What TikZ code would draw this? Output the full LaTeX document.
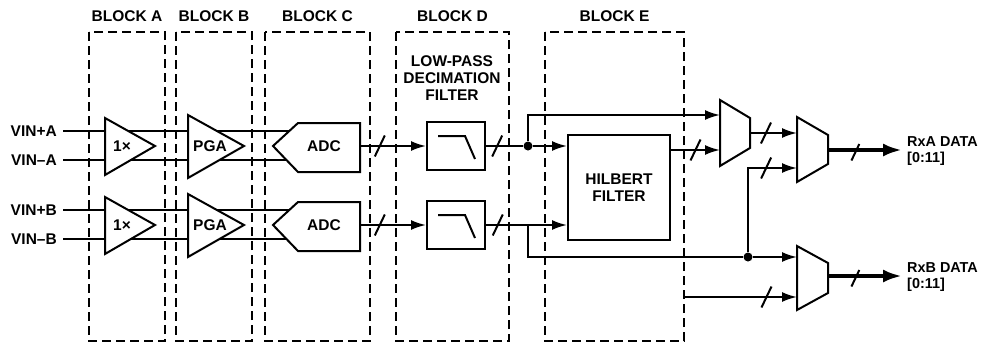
\documentclass[tikz,border=0pt]{standalone}
\usepackage{fontspec}
\setmainfont{Liberation Sans}
\usetikzlibrary{arrows.meta}

\tikzset{
	lbl/.style={font=\fontsize{15.5}{17.3}\selectfont\bfseries, inner sep=0pt},
	rxlbl/.style={font=\fontsize{14.4}{16.5}\selectfont\bfseries, inner sep=0pt, anchor=west, align=left},
	blk/.style={dash pattern=on 9pt off 5pt, line width=2pt},
	sig/.style={line width=2pt},
	sigar/.style={sig, -{Latex[length=15pt,width=10pt]}},
	outar/.style={line width=4.5pt, -{Latex[length=19pt,width=13pt]}},
	box/.style={draw, line width=2pt, fill=white, inner sep=0pt},
	dot/.style={circle, fill, inner sep=0pt, minimum size=9pt},
	slash/.pic={\draw[line width=2pt, -] (-5,10.5) -- (5,-10.5);}
}

\begin{document}
\begin{tikzpicture}[x=1pt,y=-1pt]
		\useasboundingbox (0,0) rectangle (982,343);
		\foreach \nm/\xa/\xb in {A/89/165,B/176/252,C/265/370,D/396/509,E/545/684}{
			\draw[blk] (\xa,32) rectangle (\xb,341);
			\node[lbl] (blk\nm) at ({(\xa+\xb)/2},16) {BLOCK \nm};
		}
		\node[lbl, align=center] (lpdf) at (452,78) {LOW-PASS\\DECIMATION\\FILTER};
		\foreach \ch/\yc in {A/146,B/225}{
			\node[lbl, anchor=east] (lp\ch) at (57,\yc-15) {VIN+\ch};
			\node[lbl, anchor=east] (ln\ch) at (57,\yc+14) {VIN–\ch};
			\coordinate (p\ch) at (63,\yc-15);
			\coordinate (n\ch) at (63,\yc+14);
			\coordinate (adcp\ch) at (300,\yc-15);
			\coordinate (adcn\ch) at (300,\yc+14);
			\draw[sig] (p\ch) -- (adcp\ch);
			\draw[sig] (n\ch) -- (adcn\ch);
			\draw[box] (105,\yc-28) -- (155,\yc) -- (105,\yc+29) -- cycle;
			\node[lbl] (buf\ch) at (122,\yc) {1×};
			\draw[box] (188,\yc-31) -- (244,\yc) -- (188,\yc+32) -- cycle;
			\node[lbl] (pga\ch) at (210,\yc) {PGA};
			\draw[box] (273,\yc) -- (298,\yc-23) -- (360,\yc-23) -- (360,\yc+26) -- (298,\yc+26) -- cycle;
			\node[lbl] (adc\ch) at (324,\yc) {ADC};
			\coordinate (adco\ch) at (360,\yc);
			\node[box, minimum width=58pt, minimum height=48pt] (filt\ch) at (456,\yc) {};
			\draw[sig] (filt\ch.center) ++(-18,-10) -- ++(27,0) -- ++(10,23);
			\draw[sigar] (adco\ch) -- (filt\ch) pic[pos=.3]{slash};
		}
		\node[box, lbl, align=center, minimum width=102pt, minimum height=105pt] (hilb) at (619,187.5) {HILBERT\\FILTER};
		\draw[box] (720,100) -- (750,118) -- (750,148) -- (720,166) -- cycle;
		\draw[box] (797,117) -- (828,135) -- (828,164) -- (797,182) -- cycle;
		\draw[box] (797,246) -- (828,263) -- (828,293) -- (797,310) -- cycle;
		\coordinate (mux1a) at (720,115);
		\coordinate (mux1b) at (720,150);
		\coordinate (mux1o) at (750,133);
		\coordinate (mux2a) at (797,133);
		\coordinate (mux2b) at (797,168);
		\coordinate (mux2o) at (828,150);
		\coordinate (mux3a) at (797,257);
		\coordinate (mux3b) at (797,297);
		\coordinate (mux3o) at (828,276);
		\coordinate (eout) at (684,297);
		\node[dot] (jA) at (528,146) {};
		\coordinate (jB) at (528,225);
		\node[dot] (jC) at (748,257) {};
		\node[rxlbl] (rxA) at (907,151) {RxA DATA\\{[0:11]}};
		\node[rxlbl] (rxB) at (907,277) {RxB DATA\\{[0:11]}};
		\draw[sig] (filtA) -- (jA) pic[pos=.3]{slash};
		\draw[sigar] (jA) -- (jA -| hilb.west);
		\draw[sigar] (jA) |- (mux1a);
		\draw[sig] (filtB) -- (jB) pic[pos=.28]{slash};
		\draw[sigar] (jB) -- (jB -| hilb.west);
		\draw[sig] (jB) |- (jC);
		\draw[sigar] (jC) -- (mux3a);
		\draw[sigar] (jC) -- (jC |- mux2b) -- (mux2b) pic[pos=.37]{slash};
		\draw[sigar] (hilb.east |- mux1b) -- (mux1b) pic[pos=.5]{slash};
		\draw[sigar] (mux1o) -- (mux2a) pic[pos=.34]{slash};
		\draw[sigar] (eout) -- (mux3b) pic[pos=.73]{slash};
		\draw[outar, shorten >=5pt] (mux2o) -- (mux2o -| rxA.west) pic[pos=.36]{slash};
		\draw[outar, shorten >=5pt] (mux3o) -- (mux3o -| rxB.west) pic[pos=.36]{slash};
\end{tikzpicture}
\end{document}
